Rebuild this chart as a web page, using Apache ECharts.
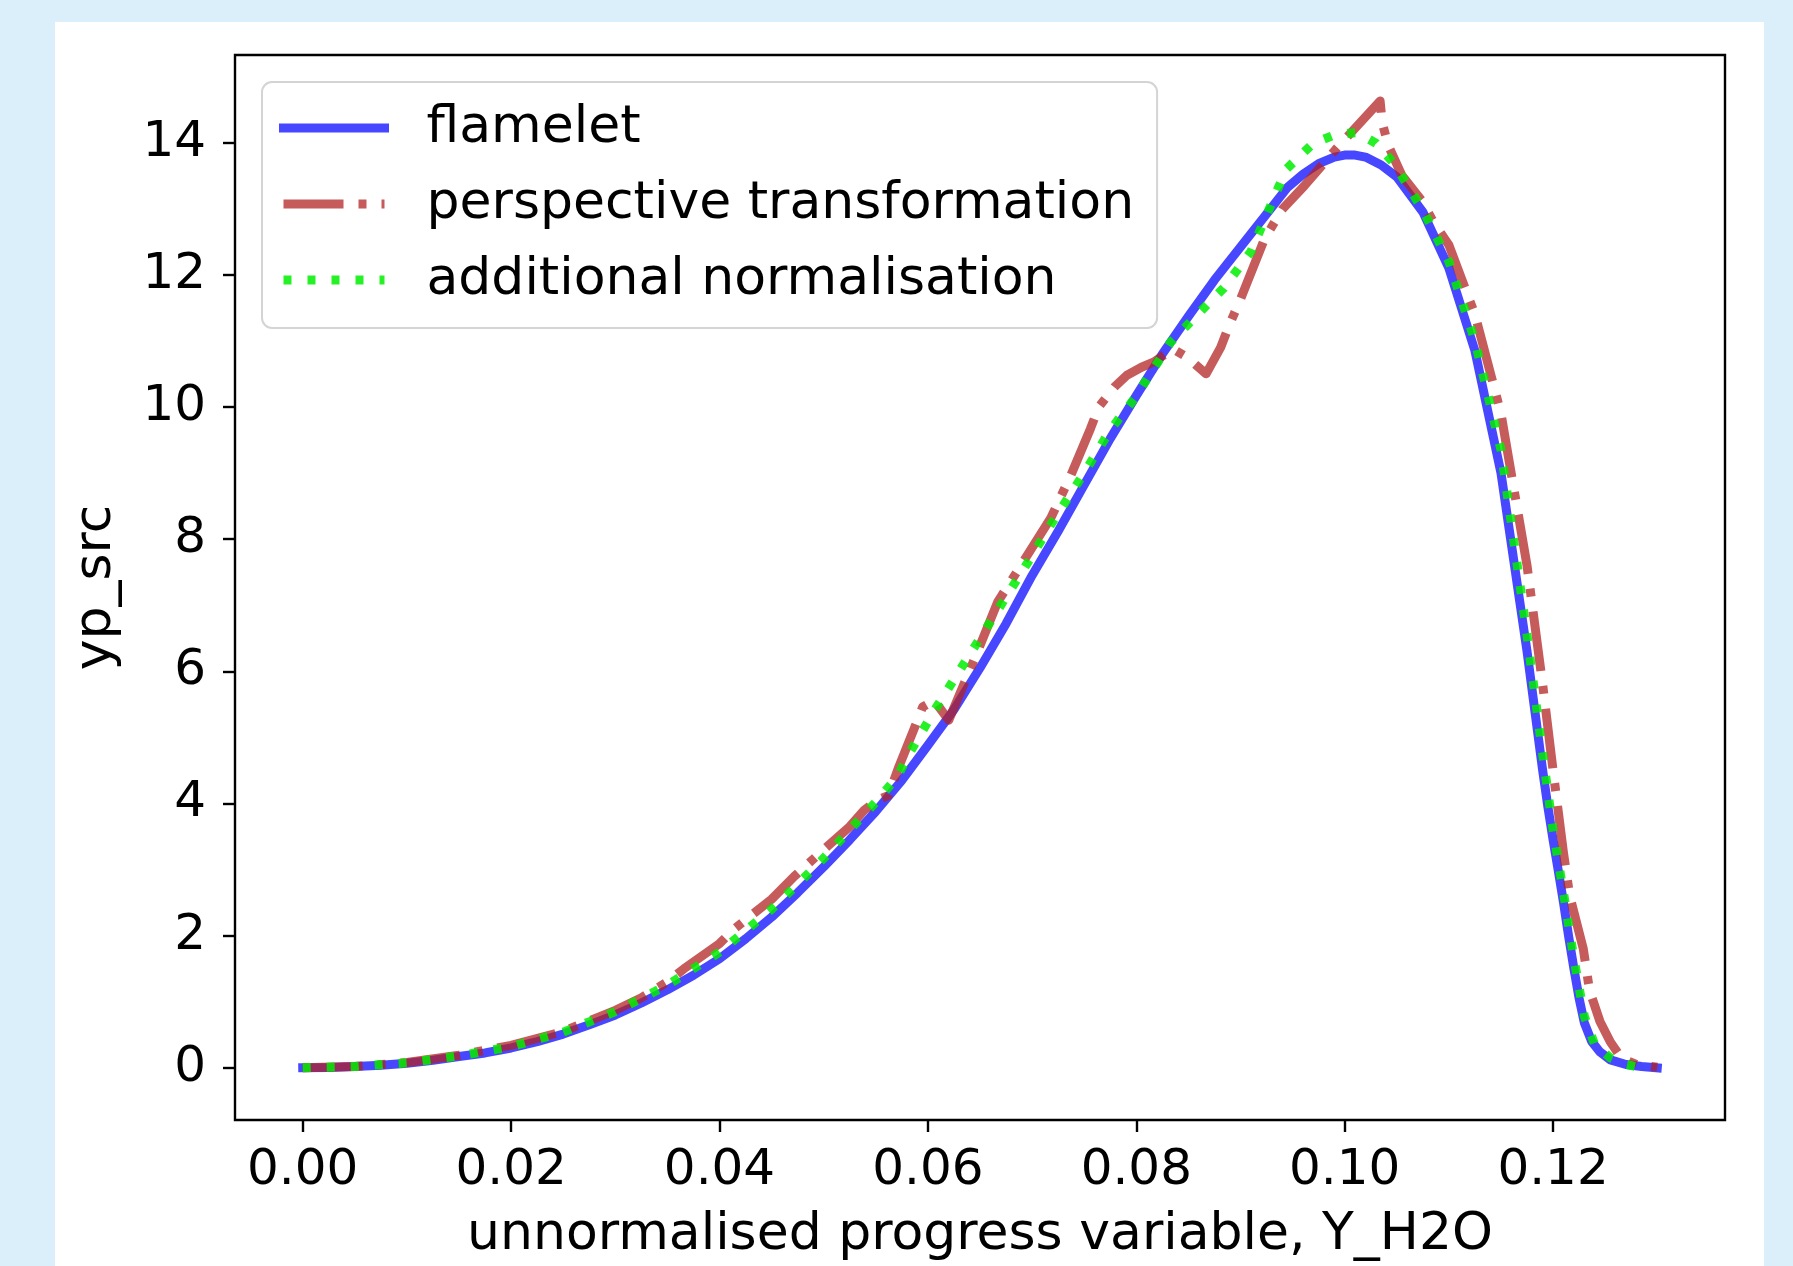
<!DOCTYPE html>
<html>
<head>
<meta charset="utf-8">
<script src="https://cdn.jsdelivr.net/npm/echarts@6/dist/echarts.min.js"></script>
<style>
html,body{margin:0;padding:0;background:#dbeffa;}
#c{width:1793px;height:1266px;}
</style>
</head>
<body>
<div id="c"></div>
<script>
// ---- data ----
const flameletX = [0,0.0025,0.005,0.0075,0.01,0.0125,0.015,0.0175,0.02,0.0225,0.025,0.0275,0.03,0.0325,0.035,0.0375,0.04,0.0425,0.045,0.0475,0.05,0.0525,0.055,0.0575,0.06,0.0625,0.065,0.0675,0.07,0.0725,0.075,0.0775,0.08,0.0825,0.085,0.0875,0.09,0.0925,0.0945,0.096,0.0975,0.099,0.1,0.101,0.102,0.1035,0.105,0.1075,0.11,0.1125,0.115,0.1175,0.119,0.1195,0.12,0.1205,0.121,0.1215,0.122,0.1225,0.123,0.1237,0.1245,0.1255,0.127,0.1285,0.13];
const flameletY = [0,0.005,0.02,0.04,0.07,0.115,0.17,0.225,0.3,0.395,0.51,0.65,0.8,0.98,1.18,1.4,1.65,1.95,2.28,2.65,3.04,3.45,3.88,4.35,4.88,5.42,6.05,6.72,7.45,8.12,8.82,9.52,10.17,10.8,11.37,11.92,12.42,12.92,13.32,13.52,13.68,13.78,13.81,13.81,13.78,13.66,13.48,12.95,12.1,10.85,9.0,6.3,4.5,3.95,3.45,2.98,2.5,1.98,1.5,1.05,0.68,0.4,0.24,0.12,0.05,0.02,0];

const perspX = [0,0.005,0.01,0.015,0.02,0.025,0.03,0.0325,0.035,0.0366,0.04,0.0414,0.045,0.0472,0.05,0.0525,0.0539,0.0552,0.0562,0.0572,0.0587,0.0595,0.0606,0.062,0.0632,0.0648,0.0667,0.068,0.0692,0.0718,0.0737,0.0756,0.0764,0.0779,0.0791,0.0805,0.0817,0.0835,0.0849,0.0867,0.0881,0.0889,0.09,0.0923,0.094,0.0961,0.0991,0.1034,0.1036,0.1042,0.1055,0.1075,0.1085,0.11,0.1125,0.115,0.1175,0.119,0.12,0.121,0.1216,0.1229,0.1235,0.1245,0.1255,0.1266,0.128,0.13];
const perspY = [0,0.02,0.08,0.19,0.34,0.55,0.87,1.06,1.3,1.5,1.88,2.1,2.55,2.9,3.3,3.65,3.9,4.05,4.12,4.55,5.14,5.46,5.56,5.26,5.71,6.31,7.05,7.37,7.67,8.32,8.96,9.67,10.0,10.3,10.48,10.6,10.68,10.88,10.75,10.5,10.9,11.23,11.63,12.54,12.99,13.34,13.89,14.63,14.3,13.95,13.5,13.1,12.8,12.45,11.4,9.9,7.6,5.8,4.5,3.25,2.6,1.8,1.17,0.7,0.39,0.14,0.05,0.01];

const normX = [0,0.005,0.01,0.015,0.02,0.025,0.03,0.035,0.04,0.045,0.0475,0.05,0.0525,0.055,0.0571,0.058,0.0606,0.0654,0.07,0.0718,0.075,0.0775,0.0798,0.0833,0.0865,0.0884,0.091,0.0944,0.097,0.0991,0.1012,0.103,0.1047,0.1075,0.11,0.1125,0.115,0.1175,0.119,0.12,0.121,0.122,0.123,0.124,0.1255,0.127,0.1285];
const normY = [0,0.02,0.075,0.18,0.32,0.54,0.85,1.25,1.75,2.4,2.78,3.17,3.6,4.02,4.41,4.7,5.4,6.6,7.75,8.22,9.0,9.65,10.12,10.98,11.5,11.8,12.35,13.6,13.99,14.12,14.15,13.99,13.69,12.98,12.2,11.0,9.35,6.55,4.75,3.6,2.65,1.65,0.78,0.35,0.15,0.05,0.0];

const seriesNames = ['flamelet', 'perspective transformation', 'additional normalisation'];
const xTicks = [0, 0.02, 0.04, 0.06, 0.08, 0.10, 0.12];
const yTicks = [0, 2, 4, 6, 8, 10, 12, 14];
const xTitle = 'unnormalised progress variable, Y_H2O';
const yTitle = 'yp_src';

// ---- chart ----
const FONT = 'DejaVu Sans';
const pairs = (xs, ys) => xs.map((x, i) => [x, ys[i]]);
const chart = echarts.init(document.getElementById('c'), null, {renderer: 'canvas', width: 1793, height: 1266});

const option = {
  animation: false,
  backgroundColor: '#dbeffa',
  graphic: [{
    type: 'rect', z: -100, silent: true,
    shape: {x: 55, y: 22, width: 1709, height: 1260},
    style: {fill: '#ffffff'}
  }],
  grid: {
    left: 235, top: 55, width: 1490, height: 1070,
    show: true, borderColor: '#000', borderWidth: 2.4, backgroundColor: 'transparent'
  },
  legend: {
    orient: 'vertical',
    left: 262, top: 82,
    padding: [18, 23, 20, 17],
    itemWidth: 101, itemHeight: 20, itemGap: 20,
    backgroundColor: 'rgba(255,255,255,0.8)',
    borderColor: '#d4d4d4', borderWidth: 2, borderRadius: 10,
    lineStyle: {width: 9},
    itemStyle: {opacity: 0},
    textStyle: {fontFamily: FONT, fontSize: 52, color: '#000', lineHeight: 56, padding: [0, 0, 0, 37]},
    data: seriesNames
  },
  xAxis: {
    type: 'value', min: -0.0065, max: 0.1365,
    name: xTitle, nameLocation: 'middle', nameGap: 89,
    nameTextStyle: {fontFamily: FONT, fontSize: 52, color: '#000'},
    axisLine: {show: false, onZero: false},
    splitLine: {show: false},
    axisTick: {show: true, length: 12, lineStyle: {color: '#000', width: 2.4}, customValues: xTicks},
    axisLabel: {customValues: xTicks, formatter: v => v.toFixed(2), fontFamily: FONT, fontSize: 50, color: '#000', margin: 26}
  },
  yAxis: {
    type: 'value', min: -0.79, max: 15.325,
    name: yTitle, nameLocation: 'middle', nameGap: 113,
    nameTextStyle: {fontFamily: FONT, fontSize: 52, color: '#000'},
    axisLine: {show: false, onZero: false},
    splitLine: {show: false},
    axisTick: {show: true, length: 12, lineStyle: {color: '#000', width: 2.4}, customValues: yTicks},
    axisLabel: {customValues: yTicks, formatter: v => String(Math.round(v)), fontFamily: FONT, fontSize: 50, color: '#000', margin: 29}
  },
  series: [
    {
      name: seriesNames[0], type: 'line', data: pairs(flameletX, flameletY),
      symbol: 'none', showSymbol: false, smooth: false,
      lineStyle: {color: 'rgba(0,0,255,0.72)', width: 9, cap: 'square', join: 'round'},
      itemStyle: {color: 'rgba(0,0,255,0.72)'}
    },
    {
      name: seriesNames[1], type: 'line', data: pairs(perspX, perspY),
      symbol: 'none', showSymbol: false, smooth: false,
      lineStyle: {color: 'rgba(178,34,34,0.74)', width: 9, type: [60, 15, 8, 15], cap: 'butt', join: 'round'},
      itemStyle: {color: 'rgba(178,34,34,0.74)'}
    },
    {
      name: seriesNames[2], type: 'line', data: pairs(normX, normY),
      symbol: 'none', showSymbol: false, smooth: false,
      lineStyle: {color: 'rgba(0,238,0,0.85)', width: 9, type: [8, 16], cap: 'butt', join: 'round'},
      itemStyle: {color: 'rgba(0,238,0,0.85)'}
    }
  ]
};
chart.setOption(option);
</script>
</body>
</html>
